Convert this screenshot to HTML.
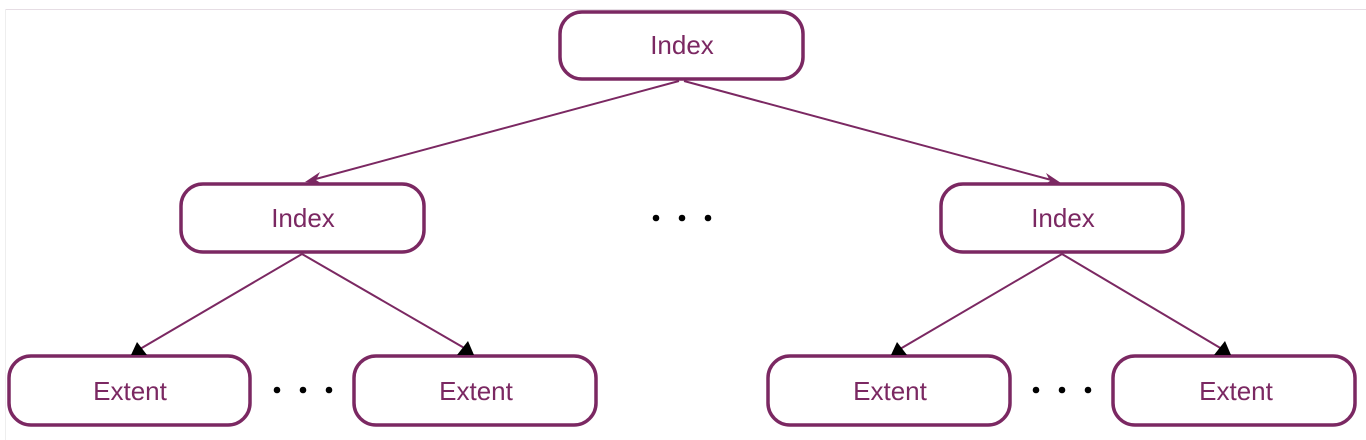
<!DOCTYPE html>
<html><head><style>body{margin:0;background:#fff}svg{display:block}</style></head><body>
<svg width="1366" height="440" viewBox="0 0 1366 440" xmlns="http://www.w3.org/2000/svg">
<line x1="5" y1="9.5" x2="1366" y2="9.5" stroke="#e6dde4" stroke-width="1"/>
<line x1="5.5" y1="9" x2="5.5" y2="440" stroke="#eeeeee" stroke-width="1"/>
<g fill="#fff" stroke="#7b2862" stroke-width="3.5">
<rect x="560" y="12" width="243" height="67" rx="22"/>
<rect x="181" y="184" width="243" height="68" rx="22"/>
<rect x="941" y="184" width="242" height="68" rx="22"/>
<rect x="9" y="356" width="241" height="69" rx="22"/>
<rect x="354" y="356" width="242" height="69" rx="22"/>
<rect x="768" y="356" width="242" height="69" rx="22"/>
<rect x="1113" y="356" width="242" height="69" rx="22"/>
</g>
<g stroke="#7b2862" stroke-width="2" fill="none">
<line x1="679" y1="81" x2="312" y2="180"/>
<line x1="684" y1="81" x2="1055" y2="181"/>
<line x1="302" y1="254" x2="140" y2="349"/>
<line x1="302" y1="254" x2="466" y2="349"/>
<line x1="1062" y1="254" x2="900" y2="349"/>
<line x1="1062" y1="254" x2="1222" y2="349"/>
</g>
<g fill="#7b2862">
<polygon points="305,182 320,172 316,180 322,184"/>
<polygon points="1061,183 1046,173 1050,181 1044,185"/>
</g>
<g fill="#000">
<polygon points="131,355 147,355 137,342"/>
<polygon points="457,355 474,355 468,341"/>
<polygon points="891,355 907,355 897,342"/>
<polygon points="1214,355 1231,355 1225,341"/>
<circle cx="656" cy="218" r="3.3"/><circle cx="682" cy="218" r="3.3"/><circle cx="708" cy="218" r="3.3"/>
<circle cx="277" cy="390" r="3.3"/><circle cx="303" cy="390" r="3.3"/><circle cx="329" cy="390" r="3.3"/>
<circle cx="1036" cy="390" r="3.3"/><circle cx="1062" cy="390" r="3.3"/><circle cx="1088" cy="390" r="3.3"/>
</g>
<g fill="#7b2862" font-family="Liberation Sans, sans-serif" font-size="26" text-anchor="middle">
<text x="682" y="54">Index</text>
<text x="303" y="227">Index</text>
<text x="1063" y="227">Index</text>
<text x="130" y="400">Extent</text>
<text x="476" y="400">Extent</text>
<text x="890" y="400">Extent</text>
<text x="1236" y="400">Extent</text>
</g>
</svg>
</body></html>
